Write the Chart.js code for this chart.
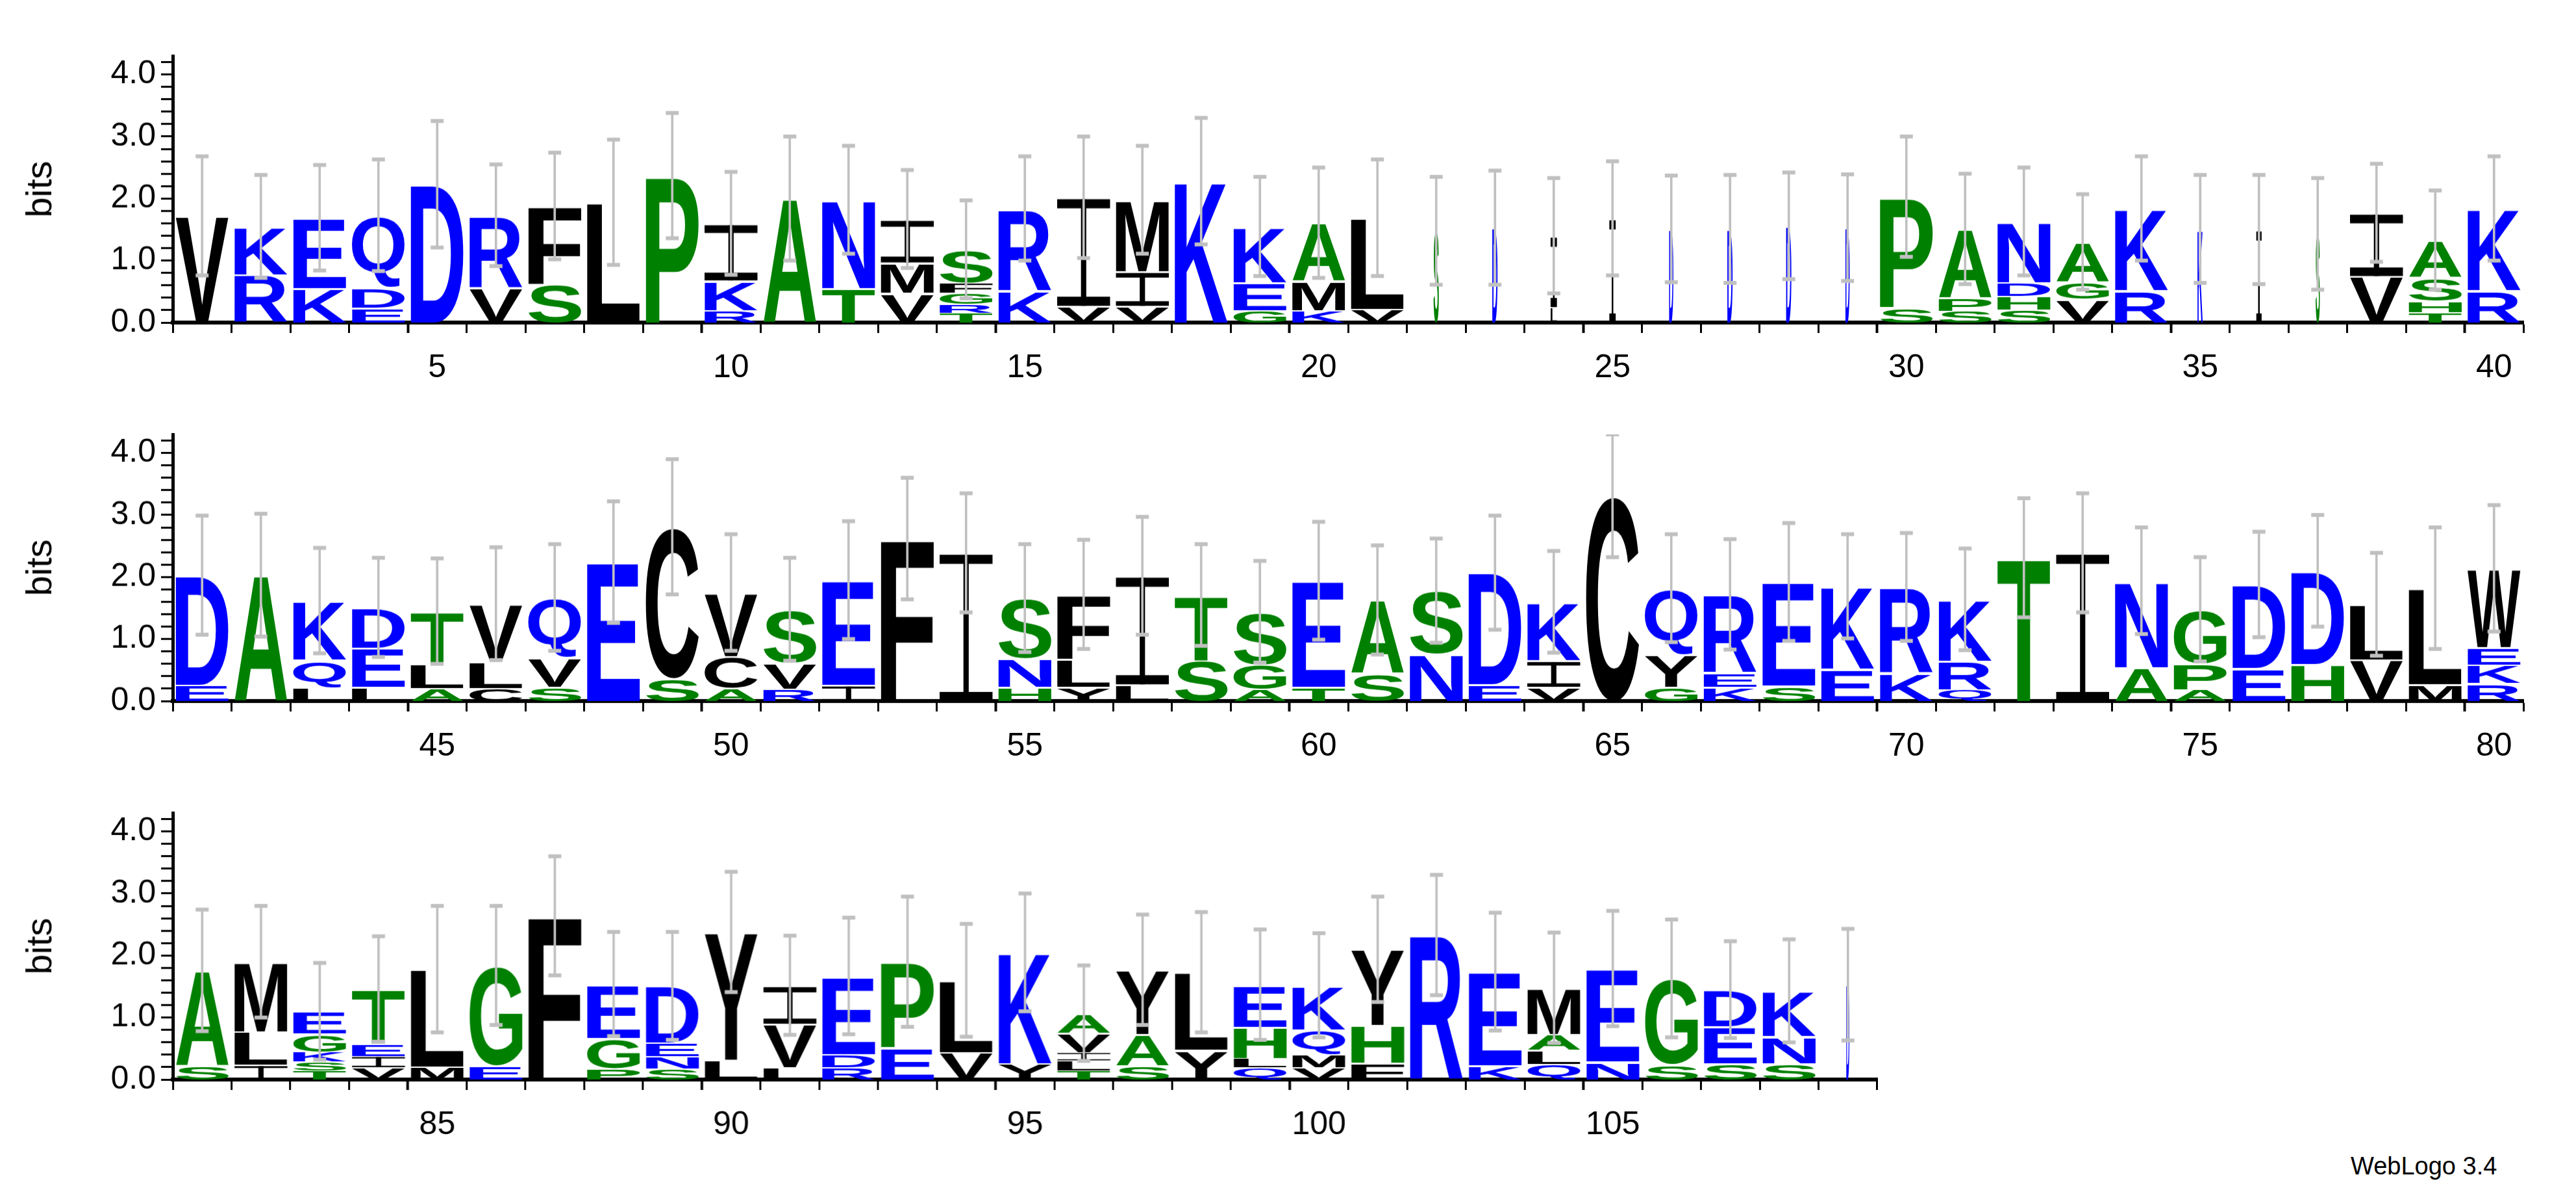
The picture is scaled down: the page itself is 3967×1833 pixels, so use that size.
<!DOCTYPE html>
<html><head><meta charset="utf-8">
<script src="https://cdn.jsdelivr.net/npm/chart.js@4"></script>
<style>
html,body{margin:0;padding:0;background:#fff;width:3967px;height:1833px;overflow:hidden;position:relative}
.row{position:absolute}
#wl{position:absolute;left:3620px;top:1775px;font:38px "Liberation Sans",Arial,sans-serif;color:#000}
</style></head><body>
<div class="row" id="r1"><canvas id="c1"></canvas></div>
<div class="row" id="r2"><canvas id="c2"></canvas></div>
<div class="row" id="r3"><canvas id="c3"></canvas></div>
<div id="wl">WebLogo 3.4</div>
<script>
// ---- DATA (letters listed bottom to top, heights in bits) ----
const row1Start = 1;
const row1Letters = ["V","RK","KE","EDQ","D","VR","SF","L","P","RKI","A","TN","VMI","TRGFS","KR","VI","VIM","K","GEK","KMA","VL",
  "S","D","LI","I","D","D","D","D","SP","SPA","SHDN","VGA","RK","K","I","S","VI","THSA","RK"];
const row1Heights = [[1.72],[0.78,0.77],[0.56,1.13],[0.24,0.33,1.16],[2.23],[0.57,1.16],[0.62,1.26],[1.94],[2.37],[0.2,0.48,0.92],[2.0],[0.56,1.42],[0.48,0.49,0.7],[0.16,0.14,0.18,0.16,0.54],[0.52,1.32],[0.27,1.75],[0.27,0.56,1.15],[2.28],[0.2,0.45,0.9],[0.2,0.47,0.94],[0.22,1.47],
  [1.48],[1.53],[0.25,1.15],[1.68],[1.51],[1.51],[1.56],[1.53],[0.25,1.78],[0.19,0.21,1.11],[0.21,0.22,0.22,0.98],[0.38,0.28,0.64],[0.52,1.32],[1.51],[1.5],[1.43],[0.75,1.02],[0.17,0.18,0.38,0.6],[0.52,1.32]];
const row1ErrTop = [2.68,2.38,2.54,2.63,3.25,2.55,2.74,2.95,3.38,2.43,3.0,2.85,2.46,1.97,2.68,3.0,2.85,3.3,2.35,2.5,2.63,
  2.35,2.45,2.33,2.6,2.37,2.38,2.42,2.39,3.0,2.4,2.5,2.07,2.68,2.38,2.38,2.33,2.56,2.13,2.68];
const row1Width = [1,1,1,1,1,1,1,1,1,1,1,1,1,1,1,1,1,1,1,1,1,
  0.1,0.1,0.12,0.12,0.08,0.1,0.1,0.08,1,1,1,1,1,0.1,0.1,0.08,1,1,1];

const row2Start = 41;
const row2Letters = ["ED","A","LQK","LED","ALT","CLV","SVQ","E","SC","ACV","RVS","IE","F","I","HNS","YLF","LI","ST","AGS","TE",
  "SA","NS","ED","VIK","C","GYQ","KER","SE","EK","KR","QRK","T","I","AN","APG","ED","HD","VL","ML","RKEW"];
const row2Heights = [[0.26,1.77],[2.03],[0.23,0.44,0.95],[0.23,0.63,0.65],[0.21,0.39,0.85],[0.21,0.43,0.93],[0.23,0.48,0.96],[2.24],[0.37,2.44],[0.21,0.51,1.03],[0.2,0.42,0.86],[0.26,1.69],[2.62],[2.39],[0.23,0.46,0.97],[0.23,0.45,1.04],[0.27,1.75],[0.66,1.05],[0.19,0.4,0.85],[0.23,1.71],
  [0.45,1.18],[0.76,1.02],[0.27,1.8],[0.23,0.43,0.94],[3.31],[0.23,0.53,1.06],[0.23,0.23,1.26],[0.25,1.67],[0.52,1.33],[0.45,1.39],[0.19,0.46,0.99],[2.31],[2.39],[0.55,1.39],[0.19,0.42,0.87],[0.53,1.35],[0.6,1.5],[0.67,0.89],[0.27,1.55],[0.29,0.3,0.28,1.27]];
const row2ErrTop = [2.99,3.02,2.47,2.31,2.3,2.48,2.53,3.22,3.9,2.69,2.31,2.9,3.6,3.35,2.53,2.6,2.97,2.53,2.26,2.89,
  2.51,2.62,2.99,2.42,4.3,2.69,2.61,2.87,2.69,2.71,2.46,3.27,3.35,2.8,2.32,2.73,3.0,2.39,2.8,3.16];
const row2Width = Array(40).fill(1);

const row3Start = 81;
const row3Letters = ["SA","ILM","TSKGE","VIET","ML","EG","F","PGE","SNED","LY","LVI","RDE","EP","VL","YK","TLIVA","SAY","YL","QLHE","VMQK","FHY","R","KE","QLAM","NE","SG","SED","SNK","D"];
const row3Heights = [[0.23,1.53],[0.24,0.54,1.12],[0.15,0.14,0.16,0.29,0.36],[0.2,0.18,0.2,0.88],[0.21,1.57],[0.23,1.61],[2.64],[0.18,0.49,0.87],[0.18,0.2,0.22,0.91],[0.32,2.06],[0.2,0.7,0.62],[0.2,0.21,1.26],[0.52,1.38],[0.44,1.16],[0.26,1.79],[0.15,0.16,0.13,0.31,0.32],[0.23,0.5,1.04],[0.48,1.25],[0.2,0.15,0.5,0.68],[0.2,0.21,0.4,0.71],[0.27,0.61,1.22],[2.33],[0.23,1.51],[0.25,0.23,0.25,0.75],[0.29,1.5],[0.25,1.38],[0.26,0.6,0.59],[0.26,0.44,0.73],[1.53]];
const row3ErrTop = [2.74,2.8,1.88,2.31,2.8,2.8,3.6,2.38,2.38,3.35,2.32,2.61,2.95,2.51,3.0,1.84,2.66,2.7,2.42,2.36,2.95,3.3,2.69,2.37,2.72,2.58,2.23,2.26,2.43];
const row3Width = [1,1,1,1,1,1,1,1,1,1,1,1,1,1,1,1,1,1,1,1,1,1,1,1,1,1,1,1,0.06];

const yTickLabels = ["0.0","1.0","2.0","3.0","4.0"];
// ---- colours ----
const BLUE="#0000ff", GREEN="#008000", BLACK="#000000", GRAY="#c0c0c0";
function colorOf(L){ if("KRDENQ".includes(L)) return BLUE; if("STGAPH".includes(L)) return GREEN; return BLACK; }

const FONT = '"Liberation Sans", Arial, sans-serif';
function drawGlyph(ctx,L,x,y,w,h,col){
  if(h<0.5||w<0.5) return;
  ctx.fillStyle=col;
  if(L==="I"){
    const bar=Math.max(1.5,Math.min(14,h*0.14)); const stem=Math.max(2.5,w*0.1);
    ctx.fillRect(x,y,w,bar); ctx.fillRect(x,y+h-bar,w,bar); ctx.fillRect(x+w/2-stem/2,y,stem,h);
    return;
  }
  ctx.font='bold 200px '+FONT; ctx.textAlign='left'; ctx.textBaseline='alphabetic';
  const m=ctx.measureText(L);
  const gw=m.actualBoundingBoxLeft+m.actualBoundingBoxRight, gh=m.actualBoundingBoxAscent+m.actualBoundingBoxDescent;
  ctx.save(); ctx.translate(x,y); ctx.scale(w/gw,h/gh);
  ctx.fillText(L,m.actualBoundingBoxLeft,m.actualBoundingBoxAscent); ctx.restore();
}
const logoPlugin={id:'logo',beforeDatasetsDraw(chart){
  const o=chart.options.plugins.logo, xs=chart.scales.x, ys=chart.scales.y, ctx=chart.ctx;
  ctx.save();
  o.letters.forEach((str,i)=>{
    const p=o.start+i, cx=xs.getPixelForValue(p);
    const unit=xs.getPixelForValue(p+0.5)-xs.getPixelForValue(p-0.5);
    const w=unit*0.9*o.width[i]; let cum=0;
    [...str].forEach((L,k)=>{const h=o.heights[i][k];
      const y0=ys.getPixelForValue(cum), y1=ys.getPixelForValue(cum+h);
      const gap=Math.min(3,(y0-y1)*0.1);
      drawGlyph(ctx,L,cx-w/2,y1+gap,w,y0-y1-gap,colorOf(L)); cum+=h;});
  });
  ctx.restore();
}};

function makeRow(id,cid,start,letters,heights,errTop,width,baseline,nPos){
  const bit=102, ymax=4.3, padTop=10, yW=236, xH=110, padR=20;
  const areaTop=baseline-ymax*bit, areaW=nPos*90.5, areaH=ymax*bit;
  const W=yW+areaW+padR, H=padTop+areaH+xH;
  const div=document.getElementById(id); div.style.left=(266-yW)+'px'; div.style.top=(areaTop-padTop)+'px';
  const cv=document.getElementById(cid); cv.width=W; cv.height=H; cv.style.width=W+'px'; cv.style.height=H+'px';
  const totals=heights.map(a=>a.reduce((s,v)=>s+v,0));
  const errBars=totals.map((t,i)=>({x:start+i,y:[2*t-errTop[i],errTop[i]]}));
  const caps=[]; totals.forEach((t,i)=>{caps.push({x:start+i,y:errTop[i]});caps.push({x:start+i,y:2*t-errTop[i]});});
  new Chart(cv,{type:'bar',plugins:[logoPlugin],
    data:{datasets:[
      {type:'bar',data:errBars,backgroundColor:GRAY,barThickness:3,borderWidth:0},
      {type:'scatter',data:caps,pointStyle:'line',pointRadius:10,borderColor:GRAY,borderWidth:6}]},
    options:{responsive:false,devicePixelRatio:1,animation:false,
      layout:{padding:{top:padTop,right:padR,left:0,bottom:0}},
      plugins:{legend:{display:false},tooltip:{enabled:false},
        logo:{start,letters,heights,width}},
      scales:{
        x:{type:'linear',offset:false,min:start-0.5,max:start+nPos-0.5,
          afterFit:s=>{s.height=xH;},
          afterBuildTicks:s=>{s.ticks=[];for(let p=start;p<start+nPos;p++)s.ticks.push({value:p});},
          grid:{drawOnChartArea:false,tickLength:16,tickWidth:s=>(s.tick&&s.tick.value%5===0?4:3),tickColor:'#000'},
          border:{display:true,width:6,color:'#000'},
          ticks:{padding:24,maxRotation:0,autoSkip:false,color:'#000',font:{family:FONT,size:50},
            callback:v=>(v%5===0?String(v):'')}},
        y:{min:0,max:ymax,afterFit:s=>{s.width=yW;},
          afterBuildTicks:s=>{s.ticks=[];for(let k=0;k<=21;k++)s.ticks.push({value:k/5});},
          grid:{drawOnChartArea:false,tickLength:18,tickWidth:3,tickColor:'#000'},
          border:{display:true,width:5,color:'#000'},
          title:{display:true,text:'bits',color:'#000',font:{family:FONT,size:56},padding:0},
          ticks:{padding:8,autoSkip:false,color:'#000',font:{family:FONT,size:50},
            callback:v=>{const r=Math.round(v*5);return r%5===0?yTickLabels[r/5]:'';}}}
      }}});
}
makeRow('r1','c1',row1Start,row1Letters,row1Heights,row1ErrTop,row1Width,497,40);
makeRow('r2','c2',row2Start,row2Letters,row2Heights,row2ErrTop,row2Width,1080,40);
makeRow('r3','c3',row3Start,row3Letters,row3Heights,row3ErrTop,row3Width,1663,29);
</script></body></html>
